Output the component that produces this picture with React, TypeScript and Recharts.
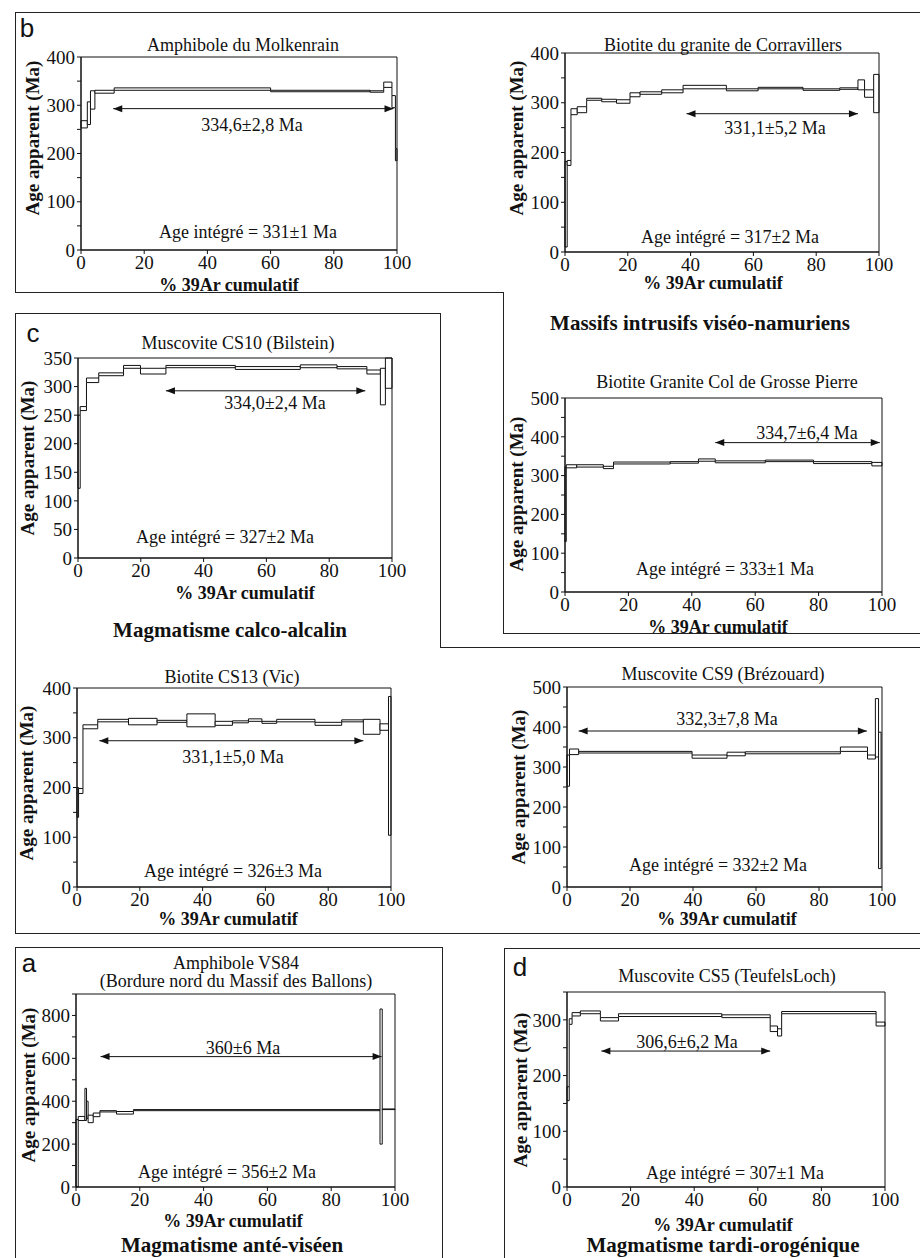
import React from "react";
import { ComposedChart, XAxis, YAxis, ReferenceArea, ReferenceLine } from "recharts";

// step boundaries (% 39Ar cumulatif) and apparent age box limits (Ma)
const molkBounds = [0, 2, 3, 4.4, 10.5, 60, 91.5, 95.8, 98.4, 99.5, 100];
const molkLo = [253, 260, 292, 325, 331, 328, 327, 337, 295, 185];
const molkHi = [268, 307, 330, 331, 336, 331, 330, 348, 320, 210];
const molkPlateau = [10.2, 98.9, 293];

const corrBounds = [0, 0.7, 1.9, 3.9, 6.9, 11.7, 16.4, 20.7, 23.9, 30.8, 37.6, 51.4, 61.5, 75.8, 87.5, 93.3, 95.4, 98.3, 100];
const corrLo = [10, 174, 276, 280, 305, 302, 299, 312, 317, 320, 328, 324, 328, 325, 327, 326, 311, 280];
const corrHi = [182, 184, 288, 292, 309, 307, 306, 320, 322, 326, 335, 328, 331, 328, 330, 346, 326, 357];
const corrPlateau = [38.7, 93.3, 278];

const bilsBounds = [0, 0.7, 2.7, 6.6, 14.5, 19.9, 28, 50.1, 70.8, 82.5, 92, 96.3, 97.9, 100];
const bilsLo = [122, 258, 307, 319, 332, 322, 333, 330, 333, 331, 322, 268, 297];
const bilsHi = [250, 265, 315, 324, 337, 332, 337, 335, 338, 335, 329, 332, 350];
const bilsPlateau = [28, 91.5, 292.6];

const gpBounds = [0, 0.4, 3.7, 12.1, 15.3, 33.2, 42.1, 47.4, 63.2, 78.4, 96.8, 100];
const gpLo = [130, 320, 322, 318, 330, 332, 337, 333, 336, 331, 325];
const gpHi = [322, 328, 328, 324, 335, 336, 343, 338, 340, 336, 334];
const gpPlateau = [47.4, 99.3, 385];

const vicBounds = [0, 0.5, 1.9, 6.6, 16.4, 25.5, 35, 44, 49.5, 54.6, 58.9, 63.6, 75.8, 84.3, 91.2, 96.5, 99.2, 100];
const vicLo = [140, 188, 318, 332, 326, 331, 322, 325, 330, 333, 329, 332, 325, 332, 307, 315, 104];
const vicHi = [200, 198, 326, 337, 339, 335, 348, 333, 334, 338, 333, 337, 331, 336, 337, 328, 383];
const vicPlateau = [7.1, 91.2, 294];

const brezBounds = [0, 0.8, 3.7, 39.7, 50.8, 56.6, 86.8, 95.4, 97.9, 98.9, 99.7];
const brezLo = [252, 331, 335, 322, 328, 333, 339, 320, 325, 46];
const brezHi = [330, 345, 339, 330, 337, 338, 350, 330, 471, 387];
const brezPlateau = [3.7, 95.2, 390];

const vs84Bounds = [0, 0.7, 2.8, 3.3, 3.8, 5.4, 7.5, 12.7, 18, 95.3, 96, 100];
const vs84Lo = [0, 310, 310, 320, 300, 328, 350, 340, 356, 200, 361];
const vs84Hi = [315, 329, 460, 400, 335, 345, 356, 352, 361, 830, 364];
const vs84Plateau = [7.7, 95.8, 608];

const cs5Bounds = [0, 0.7, 1.6, 4.2, 10.5, 16.2, 48.7, 63.9, 66.2, 67.5, 97.2, 100];
const cs5Lo = [155, 292, 307, 311, 298, 306, 304, 279, 271, 311, 289];
const cs5Hi = [180, 302, 313, 316, 304, 311, 309, 289, 284, 315, 296];
const cs5Plateau = [10.8, 63.9, 244];

const xTicks = [0, 20, 40, 60, 80, 100];

const SERIF = '"Liberation Serif", "Times New Roman", serif';
const SANS = '"Liberation Sans", Arial, sans-serif';
const INK = "#111";

function Txt({ x, y, children, size = 18, bold = false, rotate = false, family = SERIF }: any) {
  return (
    <div
      style={{
        position: "absolute",
        left: x,
        top: y,
        transform: `translate(-50%, -50%)${rotate ? " rotate(-90deg)" : ""}`,
        fontFamily: family,
        fontSize: size,
        fontWeight: bold ? "bold" : "normal",
        whiteSpace: "nowrap",
        lineHeight: 1,
        color: INK,
      }}
    >
      {children}
    </div>
  );
}

function HLine({ x1, x2, y }: any) {
  return <div style={{ position: "absolute", left: x1, top: y, width: x2 - x1, height: 1, background: "#222" }} />;
}
function VLine({ x, y1, y2 }: any) {
  return <div style={{ position: "absolute", left: x, top: y1, width: 1, height: y2 - y1, background: "#222" }} />;
}

const Arrow = (p: any) => {
  const { x1, y1, x2, y2 } = p;
  return (
    <g>
      <line x1={x1} y1={y1} x2={x2} y2={y2} stroke={INK} strokeWidth={1} />
      <polygon points={`${x1},${y1} ${x1 + 9},${y1 - 3.5} ${x1 + 9},${y1 + 3.5}`} fill={INK} />
      <polygon points={`${x2},${y2} ${x2 - 9},${y2 - 3.5} ${x2 - 9},${y2 + 3.5}`} fill={INK} />
    </g>
  );
};

function Spectrum({ plot, yMax, yStep, labelStep, bounds, lo, hi, plateau }: any) {
  const ML = 50, MT = 10, MR = 25, XH = 30;
  const yTicks: number[] = [];
  for (let v = 0; v <= yMax; v += yStep) yTicks.push(v);
  const steps = lo.map((l: number, i: number) => ({ x0: bounds[i], x1: bounds[i + 1], lo: l, hi: hi[i] }));
  // vertical joins where neighbouring boxes don't overlap
  const links: any[] = [];
  for (let i = 0; i < steps.length - 1; i++) {
    const a = steps[i], b = steps[i + 1];
    if (a.hi < b.lo) links.push({ x: a.x1, y0: a.hi, y1: b.lo });
    else if (a.lo > b.hi) links.push({ x: a.x1, y0: b.hi, y1: a.lo });
  }
  const tick = { fill: INK, fontSize: 19, fontFamily: SERIF };
  return (
    <div style={{ position: "absolute", left: plot.x - ML, top: plot.y - MT, fontFamily: SERIF }}>
      <ComposedChart
        width={plot.w + ML + MR}
        height={plot.h + MT + XH}
        margin={{ top: MT, right: MR, left: 0, bottom: 0 }}
        style={{ fontFamily: SERIF }}
      >
        <XAxis type="number" dataKey="x" domain={[0, 100]} ticks={xTicks} interval={0} allowDataOverflow height={XH} tickSize={4} tick={tick} stroke={INK} />
        <YAxis
          type="number"
          domain={[0, yMax]}
          ticks={yTicks}
          interval={0}
          allowDataOverflow
          width={ML}
          tickSize={4}
          tick={tick}
          stroke={INK}
          tickFormatter={(v: number) => (v % labelStep === 0 ? String(v) : "")}
        />
        {links.map((k, i) => (
          <ReferenceLine key={"l" + i} segment={[{ x: k.x, y: k.y0 }, { x: k.x, y: k.y1 }]} stroke={INK} strokeWidth={1} />
        ))}
        {steps.map((s: any, i: number) => (
          <ReferenceArea key={"s" + i} x1={s.x0} x2={s.x1} y1={s.lo} y2={s.hi} fill="#fff" fillOpacity={1} stroke={INK} strokeWidth={1} />
        ))}
        <ReferenceLine segment={[{ x: plateau[0], y: plateau[2] }, { x: plateau[1], y: plateau[2] }]} shape={Arrow} />
        <ReferenceArea x1={0} x2={100} y1={0} y2={yMax} fill="none" stroke={INK} strokeWidth={1} />
      </ComposedChart>
    </div>
  );
}

const YL = "Age apparent (Ma)";
const XL = "% 39Ar cumulatif";

export default function App() {
  return (
    <div style={{ position: "absolute", left: 0, top: 0, width: 920, height: 1258, background: "#fff", overflow: "hidden", fontFamily: SERIF }}>
      {/* frames */}
      <HLine x1={15} x2={920} y={12} />
      <VLine x={15} y1={12} y2={292} />
      <HLine x1={15} x2={503} y={292} />
      <VLine x={503} y1={292} y2={633} />
      <HLine x1={503} x2={920} y={633} />
      <HLine x1={15} x2={440} y={313} />
      <VLine x={440} y1={313} y2={647} />
      <VLine x={15} y1={313} y2={933} />
      <HLine x1={440} x2={920} y={647} />
      <HLine x1={15} x2={920} y={933} />
      <HLine x1={15} x2={442} y={947} />
      <VLine x={15} y1={947} y2={1258} />
      <VLine x={442} y1={947} y2={1258} />
      <HLine x1={504} x2={920} y={948} />
      <VLine x={504} y1={948} y2={1258} />

      {/* b - Molkenrain */}
      <Spectrum plot={{ x: 81, y: 57, w: 316, h: 193 }} yMax={400} yStep={50} labelStep={100} bounds={molkBounds} lo={molkLo} hi={molkHi} plateau={molkPlateau} />
      <Txt x={27} y={28} size={26} family={SANS}>b</Txt>
      <Txt x={243} y={45}>Amphibole du Molkenrain</Txt>
      <Txt x={32} y={138} size={19} bold rotate>{YL}</Txt>
      <Txt x={229} y={285} bold>{XL}</Txt>
      <Txt x={252} y={125}>334,6±2,8 Ma</Txt>
      <Txt x={248} y={232}>Age intégré = 331±1 Ma</Txt>

      {/* Corravillers */}
      <Spectrum plot={{ x: 565, y: 53, w: 314, h: 199 }} yMax={400} yStep={50} labelStep={100} bounds={corrBounds} lo={corrLo} hi={corrHi} plateau={corrPlateau} />
      <Txt x={723} y={45}>Biotite du granite de Corravillers</Txt>
      <Txt x={516} y={138} size={19} bold rotate>{YL}</Txt>
      <Txt x={713} y={283} bold>{XL}</Txt>
      <Txt x={775} y={128}>331,1±5,2 Ma</Txt>
      <Txt x={730} y={237}>Age intégré = 317±2 Ma</Txt>

      <Txt x={700} y={323} size={21} bold>Massifs intrusifs viséo-namuriens</Txt>

      {/* c - Bilstein */}
      <Spectrum plot={{ x: 78, y: 358, w: 314, h: 200 }} yMax={350} yStep={50} labelStep={50} bounds={bilsBounds} lo={bilsLo} hi={bilsHi} plateau={bilsPlateau} />
      <Txt x={33} y={333} size={26} family={SANS}>c</Txt>
      <Txt x={238} y={343}>Muscovite CS10 (Bilstein)</Txt>
      <Txt x={27} y={458} size={19} bold rotate>{YL}</Txt>
      <Txt x={245} y={593} bold>{XL}</Txt>
      <Txt x={275} y={403}>334,0±2,4 Ma</Txt>
      <Txt x={225} y={537}>Age intégré = 327±2 Ma</Txt>
      <Txt x={230} y={630} size={21} bold>Magmatisme calco-alcalin</Txt>

      {/* Grosse Pierre */}
      <Spectrum plot={{ x: 565, y: 398, w: 317, h: 194 }} yMax={500} yStep={50} labelStep={100} bounds={gpBounds} lo={gpLo} hi={gpHi} plateau={gpPlateau} />
      <Txt x={727} y={382}>Biotite Granite Col de Grosse Pierre</Txt>
      <Txt x={516} y={494} size={19} bold rotate>{YL}</Txt>
      <Txt x={718} y={627} bold>{XL}</Txt>
      <Txt x={807} y={433}>334,7±6,4 Ma</Txt>
      <Txt x={725} y={569}>Age intégré = 333±1 Ma</Txt>

      {/* Vic */}
      <Spectrum plot={{ x: 77, y: 688, w: 314, h: 199 }} yMax={400} yStep={50} labelStep={100} bounds={vicBounds} lo={vicLo} hi={vicHi} plateau={vicPlateau} />
      <Txt x={232} y={677}>Biotite CS13 (Vic)</Txt>
      <Txt x={26} y={783} size={19} bold rotate>{YL}</Txt>
      <Txt x={228} y={919} bold>{XL}</Txt>
      <Txt x={233} y={757}>331,1±5,0 Ma</Txt>
      <Txt x={233} y={871}>Age intégré = 326±3 Ma</Txt>

      {/* Brézouard */}
      <Spectrum plot={{ x: 567, y: 687, w: 315, h: 200 }} yMax={500} yStep={50} labelStep={100} bounds={brezBounds} lo={brezLo} hi={brezHi} plateau={brezPlateau} />
      <Txt x={723} y={674}>Muscovite CS9 (Brézouard)</Txt>
      <Txt x={518} y={787} size={19} bold rotate>{YL}</Txt>
      <Txt x={727} y={919} bold>{XL}</Txt>
      <Txt x={727} y={719}>332,3±7,8 Ma</Txt>
      <Txt x={718} y={865}>Age intégré = 332±2 Ma</Txt>

      {/* a - VS84 */}
      <Spectrum plot={{ x: 76, y: 994, w: 319, h: 193 }} yMax={900} yStep={100} labelStep={200} bounds={vs84Bounds} lo={vs84Lo} hi={vs84Hi} plateau={vs84Plateau} />
      <Txt x={29} y={963} size={26} family={SANS}>a</Txt>
      <Txt x={236} y={963}>Amphibole VS84</Txt>
      <Txt x={236} y={981}>(Bordure nord du Massif des Ballons)</Txt>
      <Txt x={28} y={1085} size={19} bold rotate>{YL}</Txt>
      <Txt x={233} y={1221} bold>{XL}</Txt>
      <Txt x={243} y={1048}>360±6 Ma</Txt>
      <Txt x={227} y={1172}>Age intégré = 356±2 Ma</Txt>
      <Txt x={232} y={1245} size={21} bold>Magmatisme anté-viséen</Txt>

      {/* d - CS5 */}
      <Spectrum plot={{ x: 567, y: 992, w: 318, h: 195 }} yMax={350} yStep={50} labelStep={100} bounds={cs5Bounds} lo={cs5Lo} hi={cs5Hi} plateau={cs5Plateau} />
      <Txt x={520} y={967} size={26} family={SANS}>d</Txt>
      <Txt x={727} y={976}>Muscovite CS5 (TeufelsLoch)</Txt>
      <Txt x={520} y={1090} size={19} bold rotate>{YL}</Txt>
      <Txt x={723} y={1225} bold>{XL}</Txt>
      <Txt x={687} y={1042}>306,6±6,2 Ma</Txt>
      <Txt x={735} y={1173}>Age intégré = 307±1 Ma</Txt>
      <Txt x={723} y={1245} size={21} bold>Magmatisme tardi-orogénique</Txt>
    </div>
  );
}
